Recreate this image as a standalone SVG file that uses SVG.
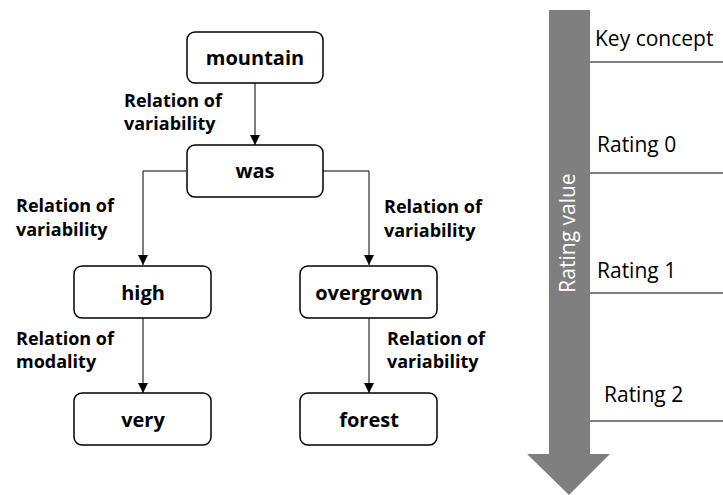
<svg xmlns="http://www.w3.org/2000/svg" width="723" height="495" viewBox="0 0 723 495">
<defs>
<marker id="ah" markerWidth="10" markerHeight="10" refX="10" refY="5" orient="auto" markerUnits="userSpaceOnUse">
<path d="M0,0 L10,5 L0,10 Z" fill="#000"/>
</marker>
<style>
.node rect{fill:#fff;stroke:#000;stroke-width:1.5}
.node text{font-family:"Open Sans","Noto Sans",sans-serif;font-weight:bold;font-size:20px;text-anchor:middle;fill:#000}
.lbl{font-family:"Open Sans","Noto Sans",sans-serif;font-weight:bold;font-size:18px;fill:#000}
.conn path{fill:none;stroke:#000;stroke-width:1;marker-end:url(#ah)}
.scale line{stroke:#7f7f7f;stroke-width:2}
.scale text{font-family:"Open Sans","Noto Sans",sans-serif;font-size:21px;fill:#000}
</style>
</defs>
<rect width="723" height="495" fill="#fff"/>
<g id="connectors" class="conn">
<path d="M255,83 V145"/>
<path d="M186,171 H143 V265"/>
<path d="M323,171 H369 V265"/>
<path d="M143,318 V393"/>
<path d="M369,318 V393"/>
</g>
<g id="labels">
<text class="lbl" x="124" y="107">Relation of</text>
<text class="lbl" x="124" y="130">variability</text>
<text class="lbl" x="16" y="212">Relation of</text>
<text class="lbl" x="16" y="236">variability</text>
<text class="lbl" x="384" y="213">Relation of</text>
<text class="lbl" x="384" y="237">variability</text>
<text class="lbl" x="16" y="345">Relation of</text>
<text class="lbl" x="16" y="368">modality</text>
<text class="lbl" x="387" y="345">Relation of</text>
<text class="lbl" x="387" y="368">variability</text>
</g>
<g id="node-mountain" class="node"><rect x="187" y="32" width="136" height="51" rx="8"/><text x="255" y="65">mountain</text></g>
<g id="node-was" class="node"><rect x="187" y="145" width="136" height="52" rx="8"/><text x="255" y="178">was</text></g>
<g id="node-high" class="node"><rect x="74" y="266" width="137" height="52" rx="8"/><text x="143" y="300">high</text></g>
<g id="node-overgrown" class="node"><rect x="300" y="266" width="137" height="52" rx="8"/><text x="369" y="300">overgrown</text></g>
<g id="node-very" class="node"><rect x="74" y="393" width="137" height="52" rx="8"/><text x="143" y="427">very</text></g>
<g id="node-forest" class="node"><rect x="300" y="393" width="137" height="52" rx="8"/><text x="369" y="427">forest</text></g>
<g id="scale" class="scale">
<path d="M549,10 H590 V454 H610 L569,495 L527,454 H549 Z" fill="#7f7f7f"/>
<text x="0" y="0" transform="translate(575,233) rotate(-90)" text-anchor="middle" style="fill:#fff">Rating value</text>
<line x1="590" y1="62" x2="723" y2="62"/>
<line x1="590" y1="173" x2="723" y2="173"/>
<line x1="590" y1="293" x2="723" y2="293"/>
<line x1="590" y1="421" x2="723" y2="421"/>
<text x="595" y="46">Key concept</text>
<text x="597" y="152">Rating 0</text>
<text x="597" y="278">Rating 1</text>
<text x="604" y="402">Rating 2</text>
</g>
</svg>
